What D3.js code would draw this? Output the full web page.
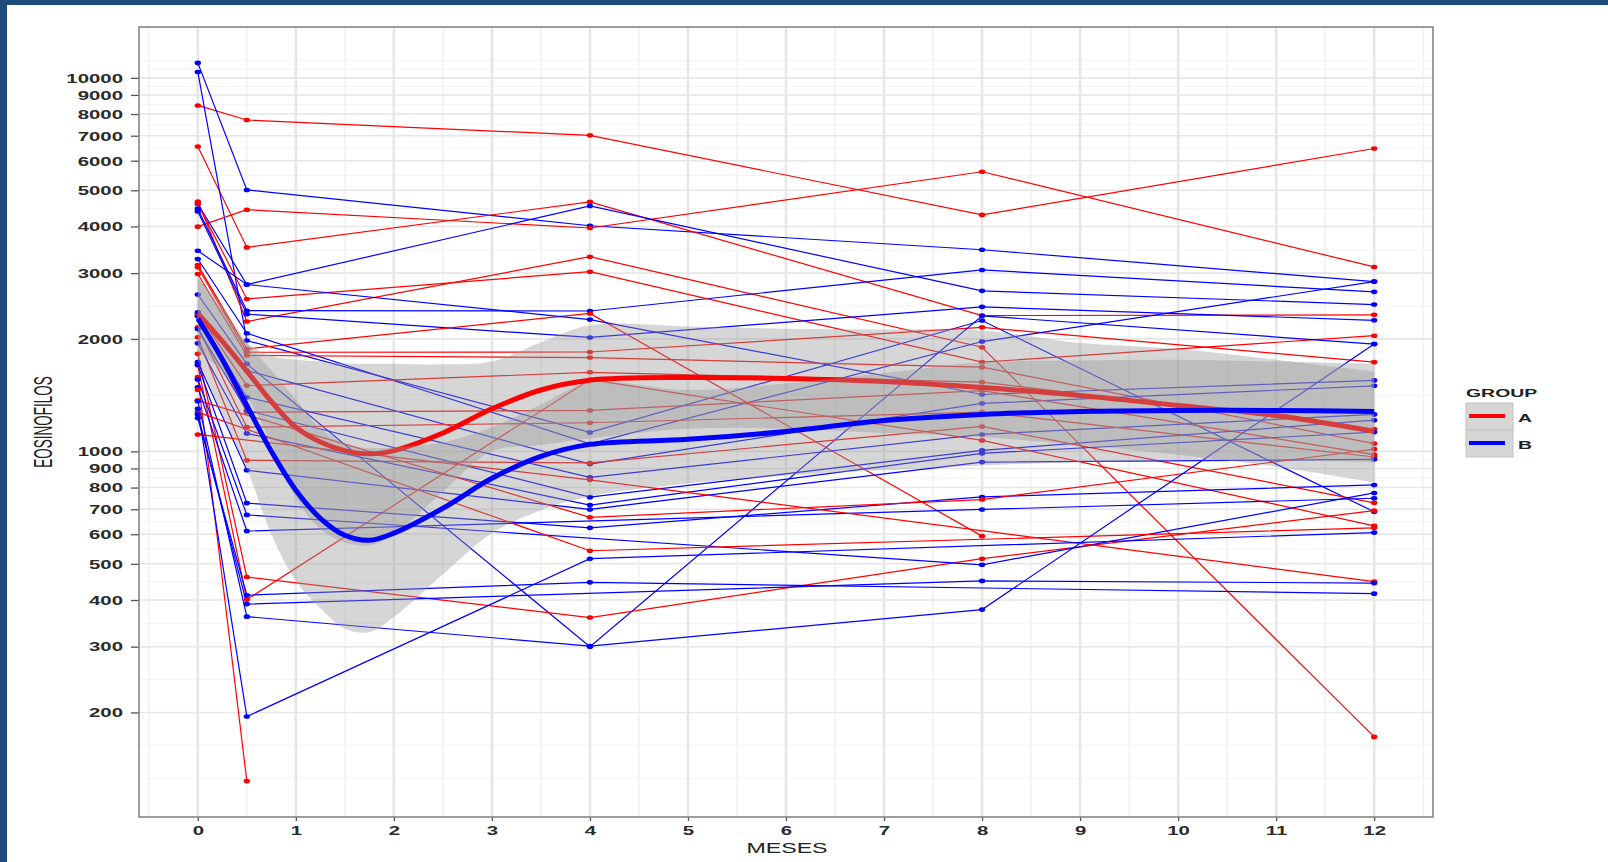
<!DOCTYPE html>
<html>
<head>
<meta charset="utf-8">
<script src="https://cdn.jsdelivr.net/npm/d3@7"></script>
<style>
  body { margin: 0; background: #fff; }
  svg { display: block; font-family: "Liberation Sans", Arial, sans-serif; }
</style>
</head>
<body>
<svg id="chart"></svg>
<script>
// visit months (x) and the EOSINOFILOS value of each patient at those visits (null = no value)
const months = [0, 0.5, 4, 8, 12];

const groupA = [
  [8436, 7710, 7015, 4296, 6470],
  [6550, 3516, 4655, 2310, 2320],
  [3996, 4436, 3963, 5605, 3117],
  [4665, 2226, 3320, 1900, 172],
  [4600, 2559, 3027, 1733, 2040],
  [3156, 1880, 2340, 593, null],
  [3110, 1842, 1845, 2148, 1733],
  [2984, 1806, 1783, 1680, 1049],
  [2340, 1500, 1628, 1532, 1148],
  [2310, 1274, 1287, 1455, 980],
  [2148, 1161, 1193, 1274, 966],
  [2021, 946, 931, 1166, 728],
  [1824, 461, 359, 516, 694],
  [1700, 401, 1557, 1070, 632],
  [1580, 131, null, null, null],
  [1369, null, 666, 743, 1014],
  [1274, null, 542, null, 624],
  [1110, null, 839, null, 448],
  [1462, null, null, null, null]
];

const groupB = [
  [10964, 5010, 4018, 3466, 2848],
  [10370, 1980, 1124, 2240, 689],
  [4600, 2797, 4540, 2690, 2472],
  [4465, 2380, 2376, 3060, 2673],
  [4390, 2330, 2018, 2437, 2243],
  [3443, 2797, 2253, 1420, 1549],
  [3273, 2071, 1048, 1968, 2848],
  [2630, 1715, 300, 2306, 1938],
  [2355, 1646, 925, 1344, 1498],
  [2300, 1396, 852, 1110, 1256],
  [2125, 1287, 754, 1006, 1212],
  [1948, 1117, 718, 988, 1126],
  [1733, 890, 699, 936, 952],
  [1706, 727, 624, 755, 813],
  [1557, 676, null, 497, 774],
  [1485, 612, null, 699, 749],
  [1363, 361, 301, 377, 1938],
  [1301, 195, 516, null, 606],
  [1256, 390, null, 450, 444],
  [1228, 412, 446, null, 416]
];

// loess fits (fit, lower, upper)
const smoothX = [0, 0.25, 0.5, 0.75, 1, 1.25, 1.5, 1.75, 2, 2.5, 3, 3.5, 4, 5, 6, 7, 8, 9, 10, 11, 12];
const fitA = [2339, 1970, 1640, 1360, 1160, 1060, 1005, 985, 1005, 1120, 1300, 1460, 1550, 1577, 1567, 1538, 1482, 1412, 1327, 1248, 1131];
const loA  = [1850, 1640, 1400, 1050, 750, 620, 570, 560, 600, 780, 1000, 1040, 1083, 1150, 1150, 1120, 1092, 1040, 980, 910, 826];
const hiA  = [2950, 2380, 1950, 1800, 1760, 1740, 1720, 1717, 1717, 1710, 1740, 1960, 2176, 2160, 2130, 2120, 2106, 1950, 1880, 1760, 1636];
const fitB = [2268, 1763, 1327, 1000, 787, 662, 596, 578, 604, 704, 847, 970, 1044, 1077, 1131, 1210, 1256, 1279, 1287, 1287, 1279];
const loB  = [1750, 1250, 900, 600, 450, 380, 335, 328, 360, 469, 604, 696, 758, 820, 860, 890, 917, 935, 945, 945, 935];
const hiB  = [2900, 2450, 1956, 1650, 1376, 1150, 1050, 1020, 1026, 1057, 1160, 1335, 1529, 1460, 1520, 1620, 1733, 1750, 1760, 1740, 1715];

const xBreaks = [0, 1, 2, 3, 4, 5, 6, 7, 8, 9, 10, 11, 12];
const yBreaks = [200, 300, 400, 500, 600, 700, 800, 900, 1000, 2000, 3000, 4000, 5000, 6000, 7000, 8000, 9000, 10000];
const groupNames = ["A", "B"];
const groupColors = ["#ff0000", "#0000ff"];

const width = 1608, height = 862;
const panel = {left: 139, right: 1433, top: 27, bottom: 817};
const stretch = 1.7;   // the picture is stretched sideways, so is its text

const svg = d3.select("#chart").attr("width", width).attr("height", height);

// blue frame of the slide
svg.append("rect").attr("x", 0).attr("y", 0).attr("width", width).attr("height", 5).attr("fill", "#1f4a7c");
svg.append("rect").attr("x", 0).attr("y", 0).attr("width", 7).attr("height", height).attr("fill", "#1f4a7c");

// scales, 5% expansion like ggplot (log space for y)
const xExt = d3.extent(months);
const xPad = (xExt[1] - xExt[0]) * 0.05;
const x = d3.scaleLinear().domain([xExt[0] - xPad, xExt[1] + xPad]).range([panel.left, panel.right]);

const allVals = groupA.concat(groupB).flat().filter(v => v != null);
const lExt = d3.extent(allVals).map(Math.log10);
const lPad = (lExt[1] - lExt[0]) * 0.05;
const y = d3.scaleLog().domain([10 ** (lExt[0] - lPad), 10 ** (lExt[1] + lPad)]).range([panel.bottom, panel.top]);

// minor breaks the ggplot way: midpoints between majors, one step beyond each end
function minorBreaks(b, lo, hi) {
  b = b.slice();
  if (lo < b[0]) b.unshift(b[0] - (b[1] - b[0]));
  if (hi > b[b.length - 1]) b.push(b[b.length - 1] + (b[b.length - 1] - b[b.length - 2]));
  const out = b.slice();
  for (let i = 0; i < b.length - 1; i++) out.push((b[i] + b[i + 1]) / 2);
  return out.filter(v => v >= lo && v <= hi);
}
const ld = y.domain().map(Math.log10);
const yMinor = minorBreaks(yBreaks.map(Math.log10), ld[0], ld[1]).map(v => 10 ** v);
const xMinor = minorBreaks(xBreaks, x.domain()[0], x.domain()[1]);

const grid = svg.append("g");
grid.selectAll(".ymin").data(yMinor).enter().append("line")
  .attr("x1", panel.left).attr("x2", panel.right)
  .attr("y1", d => y(d)).attr("y2", d => y(d))
  .attr("stroke", "#f3f3f3").attr("stroke-width", 1);
grid.selectAll(".xmin").data(xMinor).enter().append("line")
  .attr("y1", panel.top).attr("y2", panel.bottom)
  .attr("x1", d => x(d)).attr("x2", d => x(d))
  .attr("stroke", "#f4f4f4").attr("stroke-width", 2);
grid.selectAll(".ymaj").data(yBreaks).enter().append("line")
  .attr("x1", panel.left).attr("x2", panel.right)
  .attr("y1", d => y(d)).attr("y2", d => y(d))
  .attr("stroke", "#e6e6e6").attr("stroke-width", 1.6);
grid.selectAll(".xmaj").data(xBreaks).enter().append("line")
  .attr("y1", panel.top).attr("y2", panel.bottom)
  .attr("x1", d => x(d)).attr("x2", d => x(d))
  .attr("stroke", "#e6e6e6").attr("stroke-width", 2.5);

// patient lines and points, groups interleaved
const patients = [];
const n = Math.max(groupA.length, groupB.length);
for (let i = 0; i < n; i++) {
  if (groupA[i]) patients.push({g: 0, pts: groupA[i].map((v, j) => ({m: months[j], v})).filter(p => p.v != null)});
  if (groupB[i]) patients.push({g: 1, pts: groupB[i].map((v, j) => ({m: months[j], v})).filter(p => p.v != null)});
}

const line = d3.line().x(d => x(d.m)).y(d => y(d.v));

const marks = svg.append("g");
marks.selectAll("path").data(patients).enter().append("path")
  .attr("d", d => line(d.pts))
  .attr("fill", "none")
  .attr("stroke", d => groupColors[d.g])
  .attr("stroke-width", 1.2);

patients.forEach(p => {
  marks.selectAll(null).data(p.pts).enter().append("ellipse")
    .attr("cx", d => x(d.m)).attr("cy", d => y(d.v))
    .attr("rx", 3.2).attr("ry", 2.3)
    .attr("fill", groupColors[p.g]);
});

// smooth ribbons + lines, A then B
const smooths = [
  {fit: fitA, lo: loA, hi: hiA},
  {fit: fitB, lo: loB, hi: hiB}
];
const area = d3.area()
  .x((d, i) => x(smoothX[i]))
  .y0(d => y(d[0])).y1(d => y(d[1]))
  .curve(d3.curveCatmullRom);
const fitLine = d3.line()
  .x((d, i) => x(smoothX[i]))
  .y(d => y(d))
  .curve(d3.curveCatmullRom);

smooths.forEach((s, k) => {
  svg.append("path")
    .attr("d", area(s.lo.map((v, i) => [v, s.hi[i]])))
    .attr("fill", "#999999").attr("fill-opacity", 0.4);
  svg.append("path")
    .attr("d", fitLine(s.fit))
    .attr("fill", "none")
    .attr("stroke", groupColors[k])
    .attr("stroke-width", 5);
});

// axes
const yAxis = svg.append("g")
  .attr("transform", `translate(${panel.left},0)`)
  .call(d3.axisLeft(y).tickValues(yBreaks).tickFormat(d3.format("d")).tickSize(8).tickSizeOuter(0));
yAxis.select(".domain").remove();
yAxis.selectAll(".tick line").attr("stroke", "#555").attr("stroke-width", 1.3);
yAxis.selectAll(".tick text")
  .attr("x", 0).attr("dy", null).attr("y", 4.3)
  .attr("transform", `translate(-16,0) scale(${stretch},1)`)
  .attr("font-size", 12).attr("font-weight", "bold").attr("fill", "#2b2b2b")
  .attr("font-family", "Liberation Sans, Arial, sans-serif");

const xAxis = svg.append("g")
  .attr("transform", `translate(0,${panel.bottom})`)
  .call(d3.axisBottom(x).tickValues(xBreaks).tickFormat(d3.format("d")).tickSize(4).tickSizeOuter(0));
xAxis.select(".domain").remove();
xAxis.selectAll(".tick line").attr("stroke", "#555").attr("stroke-width", 1.3);
xAxis.selectAll(".tick text")
  .attr("y", 0).attr("dy", null)
  .attr("transform", `translate(0,18) scale(${stretch},1)`)
  .attr("font-size", 12).attr("font-weight", "bold").attr("fill", "#2b2b2b")
  .attr("font-family", "Liberation Sans, Arial, sans-serif");

// panel border
svg.append("rect")
  .attr("x", panel.left).attr("y", panel.top)
  .attr("width", panel.right - panel.left).attr("height", panel.bottom - panel.top)
  .attr("fill", "none").attr("stroke", "#858585").attr("stroke-width", 1.6);

// axis titles
svg.append("text")
  .attr("transform", `translate(${(panel.left + panel.right) / 2 + 1},853) scale(1.6,1)`)
  .attr("text-anchor", "middle").attr("font-size", 14.5).attr("fill", "#222")
  .text("MESES");
svg.append("text")
  .attr("transform", `translate(52,422) scale(1.95,1) rotate(-90)`)
  .attr("text-anchor", "middle").attr("font-size", 13.5).attr("fill", "#222")
  .text("EOSINOFILOS");

// legend
const legend = svg.append("g");
legend.append("text")
  .attr("transform", `translate(1466,397) scale(1.85,1)`)
  .attr("font-size", 10.5).attr("font-weight", "bold").attr("fill", "#222")
  .text("GROUP");
groupNames.forEach((name, i) => {
  const top = 403 + i * 27;
  legend.append("rect")
    .attr("x", 1466).attr("y", top).attr("width", 47).attr("height", 27)
    .attr("fill", "#d6d6d6").attr("stroke", "#c2c2c2").attr("stroke-width", 1);
  legend.append("line")
    .attr("x1", 1469).attr("x2", 1505).attr("y1", top + 13).attr("y2", top + 13)
    .attr("stroke", groupColors[i]).attr("stroke-width", 4);
  legend.append("text")
    .attr("transform", `translate(1518,${top + 18.5}) scale(1.85,1)`)
    .attr("font-size", 10.5).attr("font-weight", "bold").attr("fill", "#222")
    .text(name);
});
</script>
</body>
</html>
